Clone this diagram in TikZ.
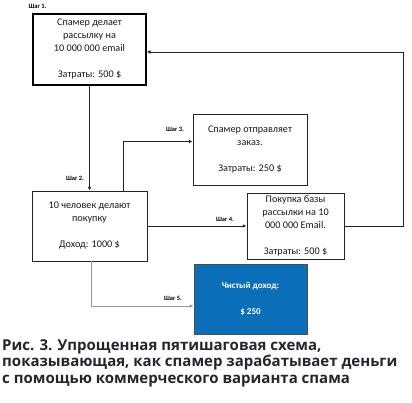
\documentclass[tikz,border=0pt]{standalone}
\usepackage{fontspec}
\setmainfont{Carlito}
\newfontfamily\captionfont{Open Sans}
\usetikzlibrary{arrows.meta, positioning, calc}
\definecolor{netblue}{RGB}{10, 110, 185}
\definecolor{linegray}{RGB}{35, 35, 35}
\definecolor{lightline}{RGB}{150, 150, 150}
\definecolor{captiontext}{RGB}{40, 35, 45}

\begin{document}
\begin{tikzpicture}[
  x=1pt, y=-1pt,
  >=Latex,
  box/.style={draw=linegray, line width=0.8pt, align=center, inner sep=0pt,
    text=black!90, font=\fontsize{10.2pt}{13pt}\selectfont},
  firstbox/.style={box, draw=black, line width=1.4pt},
  profitbox/.style={box, fill=netblue, draw=black!70, text=white,
    font=\fontsize{9pt}{13pt}\selectfont\bfseries},
  steplabel/.style={font=\fontsize{6.5pt}{7pt}\selectfont\bfseries, inner sep=0pt},
  arrow/.style={-{Latex[length=3.8pt, width=3.6pt]}, linegray, line width=0.8pt}
]
  \useasboundingbox (0,0) rectangle (412,403);

  % Step 1: mailing
  \node[firstbox, minimum width=113pt, minimum height=71pt] (mailing) at (89.5,49.5)
    {Спамер делает\\рассылку на\\10 000 000 email\\[13pt]Затраты: 500 \$};
  \node[steplabel] (label1) at (37.5,6) {Шаг 1.};

  % Step 2: buyers
  \node[box, minimum width=115pt, minimum height=70pt] (buyers) at (89.5,226)
    {10 человек делают\\покупку\\[13pt]Доход: 1000 \$};
  \node[steplabel] (label2) at (75,178) {Шаг 2.};

  % Step 3: order
  \node[box, minimum width=114pt, minimum height=71pt] (order) at (250,149.5)
    {Спамер отправляет\\заказ.\\[13pt]Затраты: 250 \$};
  \node[steplabel] (label3) at (175,129) {Шаг 3.};

  % Step 4: address base
  \node[box, minimum width=97pt, minimum height=66pt] (base) at (295.5,226)
    {Покупка базы\\рассылки на 10\\000 000 Email.\\[13pt]Затраты: 500 \$};
  \node[steplabel] (label4) at (225,219) {Шаг 4.};

  % Step 5: net profit
  \node[profitbox, minimum width=113pt, minimum height=70pt] (profit) at (250.5,299)
    {Чистый доход:\\[13pt]\$ 250};
  \node[steplabel] (label5) at (173,298) {Шаг 5.};

  % Connectors
  \draw[arrow] (mailing.south) -- (buyers.north);
  \draw[arrow] ([xshift=-24pt]buyers.north east) |- ([yshift=8pt]order.west);
  \draw[arrow] (buyers.east) -- (base.west);
  \draw[arrow] (base.east) -- ++(59,0) |- ([yshift=-2.5pt]mailing.east);
  \draw[arrow, lightline] ([xshift=2pt]buyers.south) |- ([yshift=-7pt]profit.west);

  % Caption
  \node[anchor=north west, align=left, inner sep=0pt, text=captiontext,
    font=\captionfont\fontsize{15pt}{16.8pt}\selectfont\bfseries] (caption) at (2,339)
    {Рис. 3. Упрощенная пятишаговая схема,\\показывающая, как спамер зарабатывает деньги\\с помощью коммерческого варианта спама};
\end{tikzpicture}
\end{document}
